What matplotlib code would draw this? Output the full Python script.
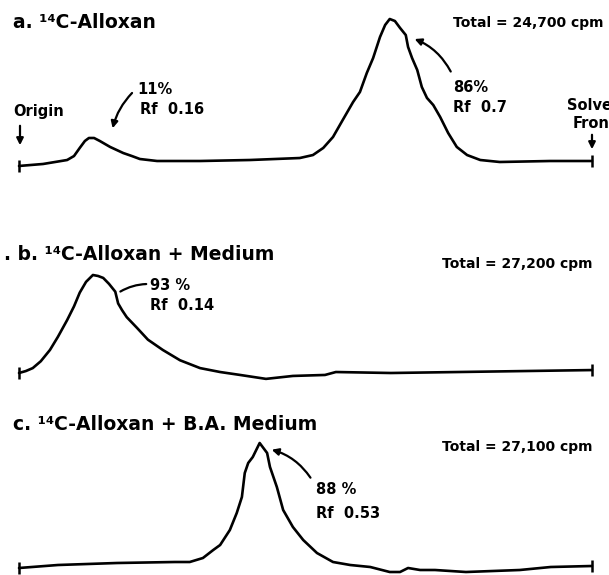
import numpy as np
import matplotlib
matplotlib.use("Agg")
import matplotlib.pyplot as plt
from matplotlib.patches import FancyArrowPatch

W, H = 609, 575

# Rf (origin = 0, solvent front = 1) and relative activity (main peak = 1)
rf_a = [0.0, 0.021, 0.042, 0.063, 0.084, 0.096, 0.106, 0.115, 0.122, 0.131, 0.141,
        0.159, 0.182, 0.197, 0.211, 0.241, 0.316, 0.403, 0.49, 0.513, 0.531, 0.548,
        0.565, 0.583, 0.595, 0.607, 0.618, 0.63, 0.639, 0.647, 0.656, 0.665, 0.675,
        0.679, 0.686, 0.695, 0.703, 0.712, 0.723, 0.735, 0.749, 0.764, 0.782, 0.805,
        0.839, 0.927, 1.0]
act_a = [-0.035, -0.028, -0.021, -0.007, 0.007, 0.035, 0.092, 0.141, 0.162, 0.162, 0.141,
         0.099, 0.056, 0.035, 0.014, 0.0, 0.0, 0.007, 0.021, 0.042, 0.092, 0.169,
         0.289, 0.415, 0.486, 0.62, 0.725, 0.873, 0.958, 1.0, 0.986, 0.937, 0.887,
         0.803, 0.725, 0.641, 0.521, 0.444, 0.394, 0.31, 0.197, 0.099, 0.042, 0.007,
         -0.007, 0.0, 0.0]

rf_b = [0.0, 0.012, 0.024, 0.038, 0.054, 0.068, 0.084, 0.096, 0.106, 0.117, 0.129,
        0.138, 0.147, 0.157, 0.168, 0.173, 0.18, 0.188, 0.206, 0.225, 0.251, 0.281,
        0.316, 0.351, 0.386, 0.431, 0.478, 0.534, 0.553, 0.649, 1.0]
act_b = [0.0, 0.02, 0.05, 0.12, 0.235, 0.37, 0.54, 0.68, 0.82, 0.93, 1.0,
         0.99, 0.97, 0.91, 0.83, 0.71, 0.64, 0.57, 0.46, 0.34, 0.235, 0.13,
         0.05, 0.01, -0.02, -0.06, -0.03, -0.02, 0.01, 0.0, 0.03]

rf_c = [0.0, 0.068, 0.171, 0.272, 0.298, 0.321, 0.339, 0.351, 0.368, 0.38, 0.389,
        0.394, 0.4, 0.408, 0.42, 0.433, 0.438, 0.45, 0.461, 0.478, 0.496, 0.52,
        0.548, 0.578, 0.613, 0.647, 0.665, 0.679, 0.70, 0.726, 0.78, 0.874, 0.928, 1.0]
act_c = [0.0, 0.024, 0.04, 0.048, 0.048, 0.08, 0.144, 0.184, 0.304, 0.44, 0.568,
         0.76, 0.84, 0.888, 1.0, 0.92, 0.808, 0.648, 0.464, 0.328, 0.224, 0.12,
         0.048, 0.024, 0.008, -0.032, -0.032, 0.0, -0.016, -0.016, -0.032, -0.016, 0.008, 0.016]

titles = ["a. \u00b9\u2074C-Alloxan", ". b. \u00b9\u2074C-Alloxan + Medium",
          "c. \u00b9\u2074C-Alloxan + B.A. Medium"]
totals = ["Total = 24,700 cpm", "Total = 27,200 cpm", "Total = 27,100 cpm"]

# panel layout in pixels: baseline y, peak y
panels = [(161, 19), (373, 275), (568, 443)]
x0, x1 = 19, 592

plt.rcParams['font.family'] = ['DejaVu Sans']
fig = plt.figure(figsize=(W / 100, H / 100), dpi=100)


def fp(x, y):
    return (x / W, 1 - y / H)


def label(x, y, s, size=10.5, **kw):
    fig.text(x / W, 1 - y / H, s, fontsize=size, fontweight='bold',
             va='center', ha='left', **kw)


def arrow(start, end, rad=0.0, head=True):
    style = '-|>' if head else '-'
    fig.add_artist(FancyArrowPatch(fp(*start), fp(*end), transform=fig.transFigure,
                                   arrowstyle=style, color='black', lw=1.6,
                                   mutation_scale=10,
                                   connectionstyle=f'arc3,rad={rad}'))


data = [(rf_a, act_a), (rf_b, act_b), (rf_c, act_c)]
for (base, peak), (rf, act) in zip(panels, data):
    ax = fig.add_axes([x0 / W, (H - base) / H, (x1 - x0) / W, (base - peak) / H])
    ax.set_xlim(0, 1)
    ax.set_ylim(0, 1)
    ax.axis('off')
    ax.plot(rf, act, color='black', lw=1.9, clip_on=False,
            solid_capstyle='round', solid_joinstyle='round')
    ax.plot([rf[0], rf[-1]], [act[0], act[-1]], '|', color='black', ms=9, mew=1.8,
            clip_on=False)

# titles and totals
label(13, 23, titles[0], size=13.5)
label(453, 23, totals[0], size=10)
label(4, 254, titles[1], size=13.5)
label(442, 264, totals[1], size=10)
label(13, 424, titles[2], size=13.5)
label(442, 447, totals[2], size=10)

# panel a annotations
label(13, 112, "Origin")
label(567, 105, "Solvent")
label(573, 123, "Front")
label(137, 89, "11%")
label(140, 110, "Rf  0.16")
label(453, 87, "86%")
label(453, 107, "Rf  0.7")
arrow((20, 123), (20, 148))
arrow((592, 132), (592, 152))
arrow((134, 91), (112, 131), rad=0.15)
arrow((452, 74), (412, 38), rad=0.2)

# panel b annotations
label(150, 286, "93 %")
label(150, 306, "Rf  0.14")
arrow((149, 284), (118, 293), rad=0.15, head=False)

# panel c annotations
label(316, 489, "88 %")
label(316, 514, "Rf  0.53")
arrow((312, 480), (269, 449), rad=0.2)

fig.savefig("out.png", dpi=100)
